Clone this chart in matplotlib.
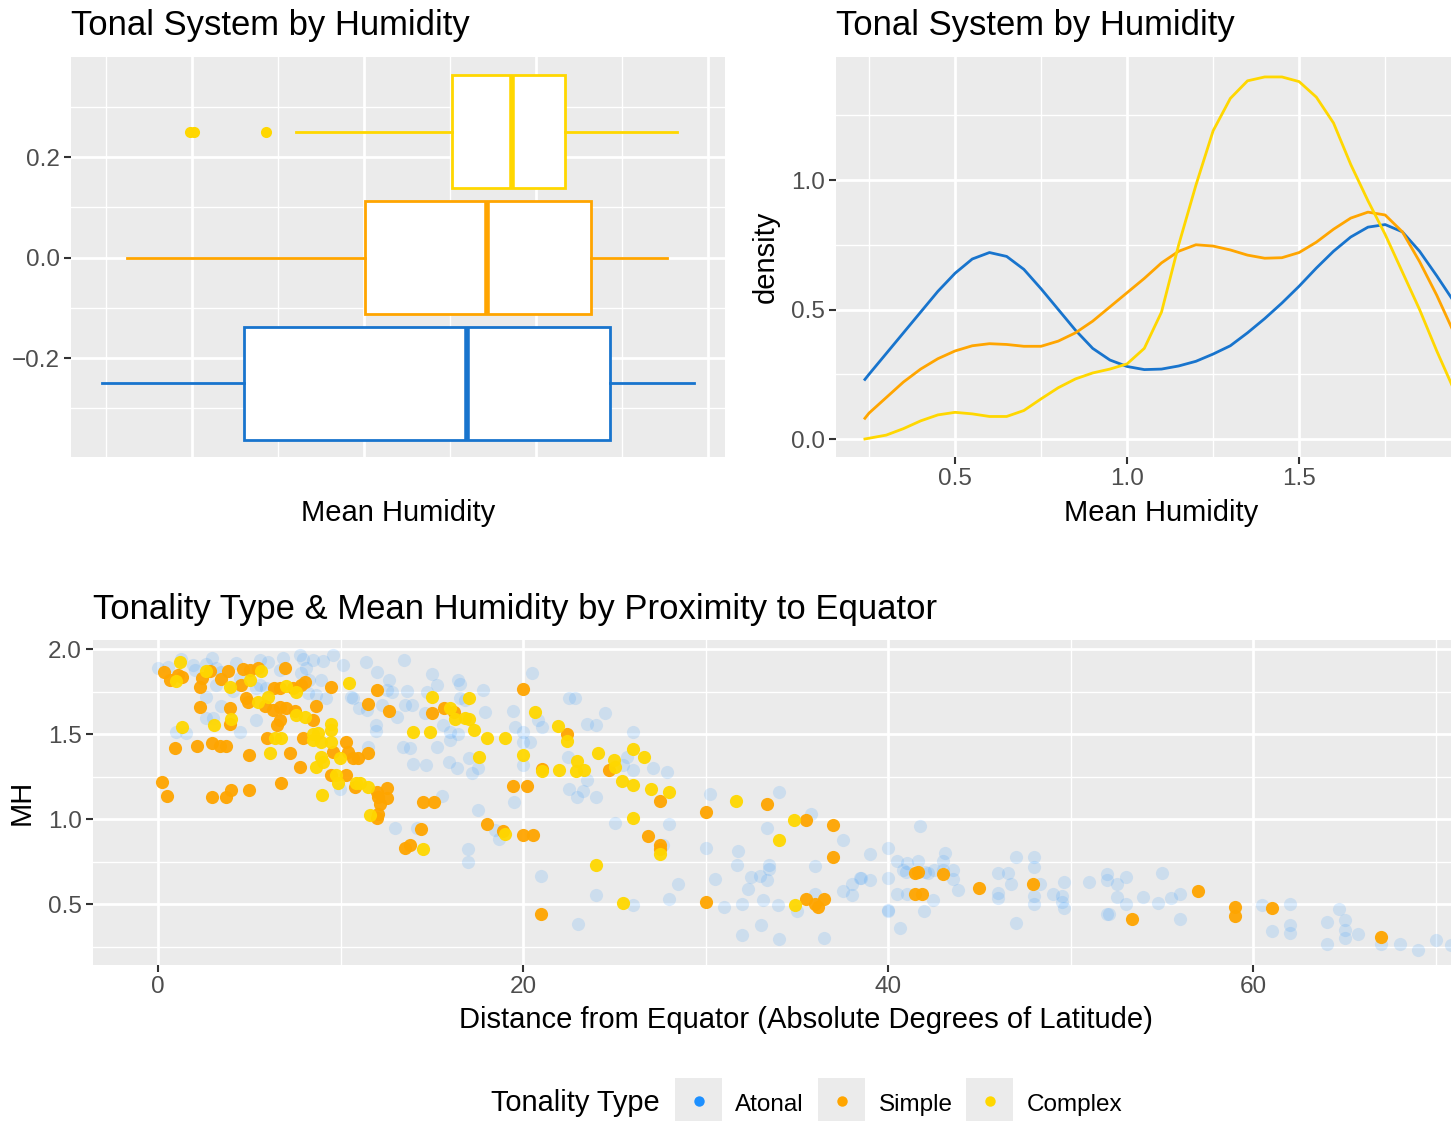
import numpy as np
import matplotlib.pyplot as plt
from matplotlib.patches import Rectangle
from matplotlib.lines import Line2D

plt.rcParams['font.family'] = ['Liberation Sans', 'DejaVu Sans']

types = ['Atonal', 'Simple', 'Complex']
line_colors = ['#1874CD', '#FFA500', '#FFD700']
point_colors = ['#1E90FF', '#FFA500', '#FFD700']

# boxplot summary of mean humidity per tonality type
box_pos = [-0.25, 0.0, 0.25]
box_low = [0.238, 0.311, 0.802]
box_q1 = [0.651, 1.003, 1.256]
box_med = [1.299, 1.358, 1.430]
box_q3 = [1.715, 1.660, 1.584]
box_high = [1.959, 1.881, 1.910]
box_out = [[], [], [0.495, 0.505, 0.715]]

# density curves of mean humidity
dens_x = [0.238, 0.25, 0.30, 0.35, 0.40, 0.45, 0.50, 0.55, 0.60, 0.65,
          0.70, 0.75, 0.80, 0.85, 0.90, 0.95, 1.00, 1.05, 1.10, 1.15,
          1.20, 1.25, 1.30, 1.35, 1.40, 1.45, 1.50, 1.55, 1.60, 1.65,
          1.70, 1.75, 1.80, 1.85, 1.90, 1.95, 1.96]
dens_atonal = [0.23, 0.25, 0.33, 0.41, 0.49, 0.57, 0.64, 0.695, 0.72, 0.705,
               0.655, 0.58, 0.50, 0.42, 0.35, 0.305, 0.28, 0.268, 0.27, 0.282,
               0.30, 0.328, 0.36, 0.41, 0.465, 0.525, 0.59, 0.66, 0.725, 0.78,
               0.818, 0.828, 0.80, 0.725, 0.63, 0.53, 0.51]
dens_simple = [0.08, 0.10, 0.16, 0.22, 0.27, 0.31, 0.34, 0.36, 0.368, 0.365,
               0.358, 0.358, 0.378, 0.41, 0.455, 0.51, 0.565, 0.62, 0.68, 0.725,
               0.75, 0.745, 0.73, 0.71, 0.698, 0.70, 0.72, 0.76, 0.81, 0.853,
               0.876, 0.865, 0.80, 0.685, 0.555, 0.41, 0.385]
dens_complex = [0.0, 0.003, 0.015, 0.04, 0.07, 0.093, 0.103, 0.097, 0.087, 0.087,
                0.11, 0.155, 0.198, 0.232, 0.255, 0.27, 0.29, 0.35, 0.49, 0.75,
                0.98, 1.19, 1.315, 1.383, 1.398, 1.398, 1.38, 1.32, 1.22, 1.06,
                0.92, 0.79, 0.645, 0.50, 0.34, 0.19, 0.165]

# (latitude distance, mean humidity) per tonality type
atonal = [
    (0.0, 1.89), (0.55, 1.896), (1.28, 1.941), (1.92, 1.906), (2.01, 1.876),
    (2.65, 1.91), (2.97, 1.949), (3.19, 1.886), (3.47, 1.867), (4.29, 1.916),
    (5.57, 1.935), (6.02, 1.922), (5.57, 1.788), (5.93, 1.769), (5.35, 1.773),
    (6.66, 1.876), (6.84, 1.949), (7.76, 1.965), (7.94, 1.941), (8.12, 1.886),
    (7.85, 1.857), (8.49, 1.935), (9.03, 1.929), (9.58, 1.965), (10.13, 1.906),
    (8.94, 1.818), (8.30, 1.818), (8.67, 1.729), (9.22, 1.71), (10.58, 1.72),
    (8.21, 1.739), (2.65, 1.72), (3.47, 1.667), (2.65, 1.596), (3.01, 1.592),
    (5.38, 1.582), (4.47, 1.51), (1.0, 1.51), (1.55, 1.504), (9.95, 1.18),
    (11.04, 1.651), (3.19, 1.788), (4.11, 1.753), (4.47, 1.827),
    (11.4, 1.922), (12.02, 1.867), (13.48, 1.935), (12.68, 1.818), (12.53, 1.759),
    (12.8, 1.749), (13.62, 1.753), (10.7, 1.71), (11.43, 1.641), (12.26, 1.671),
    (13.08, 1.602), (13.53, 1.671), (13.9, 1.671), (14.72, 1.749), (15.0, 1.851),
    (15.3, 1.788), (16.46, 1.818), (16.55, 1.792), (16.55, 1.71), (16.82, 1.7),
    (17.82, 1.759), (14.63, 1.622), (15.63, 1.553), (16.0, 1.514), (16.0, 1.465),
    (16.46, 1.498), (15.27, 1.425), (13.44, 1.425), (13.81, 1.416), (11.94, 1.553),
    (11.94, 1.518), (11.52, 1.425), (13.99, 1.327), (14.68, 1.318), (15.96, 1.337),
    (16.36, 1.298), (17.06, 1.357), (17.19, 1.269), (17.55, 1.298), (17.92, 1.631),
    (19.47, 1.635), (19.56, 1.543), (20.02, 1.514), (20.02, 1.455), (20.38, 1.455),
    (20.47, 1.857), (20.84, 1.582), (21.02, 1.543), (22.48, 1.367), (20.02, 1.318),
    (19.51, 1.102), (15.54, 1.135), (17.55, 1.053), (12.99, 0.949), (14.17, 0.949),
    (18.47, 0.935), (17.0, 0.827), (17.0, 0.749), (18.7, 0.886),
    (22.54, 1.714), (22.85, 1.714), (24.5, 1.622), (23.49, 1.557), (24.0, 1.553),
    (26.01, 1.514), (25.68, 1.367), (25.5, 1.318), (26.01, 1.288), (27.14, 1.302),
    (27.91, 1.275), (23.49, 1.229), (22.54, 1.18), (23.27, 1.167), (22.98, 1.131),
    (24.0, 1.131), (30.25, 1.147), (25.04, 0.98), (28.02, 0.971), (33.35, 0.951),
    (34.0, 1.157), (27.69, 0.851), (30.01, 0.831), (31.75, 0.814), (31.71, 0.729),
    (33.5, 0.729),
    (35.76, 1.03), (37.52, 0.877), (36.0, 0.724), (39.01, 0.798), (40.02, 0.831),
    (41.75, 0.961), (40.51, 0.753), (41.02, 0.743), (41.66, 0.753), (43.09, 0.804),
    (43.0, 0.753), (43.53, 0.7), (43.82, 0.586), (42.48, 0.524), (41.99, 0.461),
    (40.66, 0.361), (39.98, 0.461), (39.98, 0.657), (40.8, 0.70), (41.0, 0.69),
    (42.0, 0.69), (42.2, 0.685), (42.5, 0.70), (43.0, 0.70), (39.01, 0.641),
    (38.5, 0.655), (38.01, 0.618), (37.52, 0.578), (38.01, 0.553), (36.0, 0.563),
    (35.0, 0.461), (36.49, 0.302), (33.99, 0.494), (33.17, 0.524), (33.02, 0.38),
    (34.01, 0.294), (32.02, 0.5), (32.02, 0.318), (31.01, 0.484), (32.35, 0.592),
    (32.49, 0.661), (32.99, 0.665), (33.5, 0.708), (33.35, 0.645), (30.52, 0.651),
    (28.51, 0.618), (28.0, 0.53), (26.01, 0.498), (24.0, 0.553), (23.0, 0.382),
    (20.99, 0.667), (40.48, 0.559), (41.02, 0.559), (40.02, 0.465), (38.47, 0.657),
    (43.53, 0.651),
    (46.01, 0.684), (46.59, 0.684), (47.01, 0.778), (48.0, 0.778), (48.0, 0.72),
    (48.33, 0.618), (46.74, 0.618), (46.01, 0.567), (46.01, 0.539), (48.0, 0.547),
    (48.0, 0.504), (47.01, 0.39), (49.02, 0.563), (49.52, 0.547), (49.52, 0.514),
    (49.66, 0.48), (49.66, 0.631), (51.01, 0.631), (52.02, 0.68), (52.02, 0.645),
    (52.53, 0.618), (53.02, 0.661), (52.02, 0.445), (52.1, 0.44), (52.53, 0.543),
    (53.02, 0.504), (53.99, 0.543), (54.78, 0.508), (55.01, 0.684), (55.51, 0.537),
    (56.0, 0.563), (56.0, 0.416), (60.51, 0.498), (62.03, 0.504), (62.03, 0.377),
    (62.03, 0.332), (61.02, 0.343), (64.04, 0.396), (64.68, 0.471), (65.04, 0.41),
    (65.04, 0.347), (65.04, 0.302), (65.77, 0.327), (64.04, 0.269), (67.01, 0.265),
    (68.02, 0.265), (69.02, 0.233), (70.03, 0.292), (70.85, 0.259),
]

simple = [
    (0.31, 1.863), (0.64, 1.818), (1.10, 1.847), (1.33, 1.837), (2.32, 1.778),
    (2.41, 1.827), (2.83, 1.871), (3.47, 1.824), (3.84, 1.871), (4.66, 1.882),
    (5.02, 1.876), (5.48, 1.886), (4.57, 1.788), (4.84, 1.71), (4.93, 1.69),
    (6.98, 1.89), (6.34, 1.773), (6.67, 1.769), (7.39, 1.769), (7.85, 1.788),
    (8.04, 1.808), (2.32, 1.661), (3.96, 1.651), (3.93, 1.557), (5.84, 1.667),
    (6.30, 1.641), (6.67, 1.661), (7.03, 1.651), (7.49, 1.635), (6.52, 1.553),
    (6.67, 1.582), (8.68, 1.667), (8.49, 1.582), (9.50, 1.778), (5.99, 1.478),
    (7.95, 1.475), (10.32, 1.455), (9.59, 1.392), (10.41, 1.392), (10.68, 1.361),
    (10.96, 1.361), (0.91, 1.416), (2.16, 1.431), (2.98, 1.445), (3.38, 1.431),
    (3.74, 1.431), (4.99, 1.380), (7.25, 1.390), (7.76, 1.304), (9.50, 1.259),
    (10.32, 1.259), (0.24, 1.22), (0.49, 1.135), (2.98, 1.131), (3.74, 1.131),
    (3.98, 1.171), (4.99, 1.171), (6.76, 1.21), (10.78, 1.19),
    (11.98, 1.759), (11.52, 1.675), (12.68, 1.635), (15.0, 1.622), (15.67, 1.651),
    (16.22, 1.631), (20.02, 1.763), (11.52, 1.386), (11.98, 1.161), (12.53, 1.184),
    (12.53, 1.122), (12.07, 1.131), (12.16, 1.092), (12.07, 1.033), (11.98, 1.004),
    (14.5, 1.102), (15.12, 1.102), (14.41, 0.945), (13.53, 0.833), (13.81, 0.847),
    (18.01, 0.97), (18.92, 0.929), (20.02, 0.906), (20.53, 0.906), (19.43, 1.196),
    (20.2, 1.196), (21.02, 1.294), (22.39, 1.498),
    (24.73, 1.288), (27.51, 1.108), (30.01, 1.043), (33.35, 1.09), (26.83, 0.902),
    (27.51, 0.851), (27.51, 0.824),
    (35.51, 0.998), (37.0, 0.965), (37.0, 0.775), (41.48, 0.686), (41.66, 0.69),
    (43.0, 0.68), (41.48, 0.559), (41.85, 0.559), (35.51, 0.528), (36.0, 0.504),
    (36.18, 0.484), (36.49, 0.528), (30.01, 0.514), (20.99, 0.445), (45.0, 0.598),
    (47.93, 0.618), (53.35, 0.416), (57.0, 0.58), (59.01, 0.484), (59.01, 0.429),
    (61.01, 0.478), (67.01, 0.308),
]

complex_ = [
    (1.22, 1.925), (1.0, 1.812), (2.65, 1.871), (5.02, 1.818), (5.66, 1.871),
    (3.96, 1.778), (7.03, 1.784), (7.54, 1.749), (10.46, 1.798), (6.02, 1.72),
    (5.47, 1.69), (7.57, 1.612), (8.04, 1.602), (9.50, 1.557), (9.50, 1.524),
    (1.31, 1.543), (3.07, 1.553), (3.98, 1.588), (6.39, 1.478), (6.76, 1.478),
    (8.49, 1.498), (8.77, 1.504), (8.49, 1.465), (8.95, 1.455), (9.50, 1.455),
    (6.16, 1.39), (8.95, 1.367), (9.04, 1.337), (8.68, 1.304), (9.77, 1.259),
    (9.86, 1.21), (10.87, 1.21), (8.99, 1.141), (9.95, 1.361),
    (15.0, 1.72), (15.99, 1.651), (17.06, 1.714), (16.27, 1.588), (16.82, 1.592),
    (17.06, 1.588), (17.33, 1.524), (13.99, 1.51), (14.9, 1.51), (18.01, 1.478),
    (19.01, 1.478), (17.61, 1.367), (19.98, 1.376), (20.66, 1.627), (21.94, 1.549),
    (22.39, 1.459), (21.02, 1.282), (21.99, 1.288), (11.07, 1.21), (11.52, 1.19),
    (11.62, 1.024), (14.5, 0.827), (19.01, 0.912),
    (22.98, 1.341), (22.91, 1.282), (23.35, 1.288), (24.09, 1.386), (24.99, 1.347),
    (25.04, 1.308), (26.01, 1.412), (26.6, 1.367), (25.41, 1.225), (26.01, 1.2),
    (27.0, 1.18), (28.02, 1.161), (31.67, 1.108), (26.01, 1.004), (27.51, 0.798),
    (24.0, 0.729), (34.0, 0.88), (34.85, 0.998), (25.5, 0.508), (34.9, 0.494),
]

W, H = 1451, 1121


def fx(px):
    return px / W


def fy(py):
    return 1 - py / H


def style(ax):
    ax.set_facecolor('#EBEBEB')
    for s in ax.spines.values():
        s.set_visible(False)
    ax.grid(which='major', color='white', lw=2.0)
    ax.grid(which='minor', color='white', lw=1.0)
    ax.set_axisbelow(True)
    ax.tick_params(which='major', length=5, width=1.5, color='#333333',
                   labelsize=17.5, labelcolor='#4D4D4D', pad=3)
    ax.tick_params(which='minor', length=0)


fig = plt.figure(figsize=(W / 100, H / 100), dpi=100)

# top left: boxplots
ax_box = fig.add_axes([fx(71), fy(457), (725 - 71) / W, 400 / H])
style(ax_box)
for i in range(3):
    stats = [dict(med=box_med[i], q1=box_q1[i], q3=box_q3[i],
                  whislo=box_low[i], whishi=box_high[i], fliers=box_out[i])]
    ax_box.bxp(stats, positions=[box_pos[i]], widths=0.225,
               orientation='horizontal', patch_artist=True, showcaps=False,
               manage_ticks=False,
               boxprops=dict(facecolor='white', edgecolor=line_colors[i], lw=2.0),
               whiskerprops=dict(color=line_colors[i], lw=2.0),
               medianprops=dict(color=line_colors[i], lw=4.0),
               flierprops=dict(marker='o', markerfacecolor=line_colors[i],
                               markeredgecolor='none', markersize=8))
ax_box.set_xlim(0.148, 2.049)
ax_box.set_ylim(-0.397, 0.399)
ax_box.set_xticks([0.5, 1.0, 1.5, 2.0])
ax_box.set_xticks([0.25, 0.75, 1.25, 1.75], minor=True)
ax_box.set_yticks([-0.2, 0.0, 0.2])
ax_box.set_yticks([-0.3, -0.1, 0.1, 0.3], minor=True)
ax_box.set_yticklabels(['\u22120.2', '0.0', '0.2'])
ax_box.tick_params(axis='x', which='major', length=0, labelbottom=False)

# top right: density
ax_den = fig.add_axes([fx(836), fy(457), (1487 - 836) / W, 400 / H])
style(ax_den)
for ys, c in zip([dens_atonal, dens_simple, dens_complex], line_colors):
    ax_den.plot(dens_x, ys, color=c, lw=2.0, solid_joinstyle='round')
ax_den.set_xlim(0.154, 2.046)
ax_den.set_ylim(-0.0695, 1.475)
ax_den.set_xticks([0.5, 1.0, 1.5])
ax_den.set_xticks([0.25, 0.75, 1.25, 1.75], minor=True)
ax_den.set_yticks([0.0, 0.5, 1.0])
ax_den.set_yticks([0.25, 0.75, 1.25], minor=True)

# bottom: scatter
ax_sc = fig.add_axes([fx(93), fy(965), (1516 - 93) / W, 325 / H])
style(ax_sc)
for pts, c, a in zip([atonal, simple, complex_], point_colors, [0.15, 0.95, 0.95]):
    lat, mh = np.array(pts).T
    ax_sc.scatter(lat, mh, s=90, color=c, alpha=a, linewidths=0)
ax_sc.set_xlim(-3.56, 74.4)
ax_sc.set_ylim(0.143, 2.053)
ax_sc.set_xticks([0, 20, 40, 60])
ax_sc.set_xticks([10, 30, 50, 70], minor=True)
ax_sc.set_yticks([0.5, 1.0, 1.5, 2.0])
ax_sc.set_yticks([0.25, 0.75, 1.25, 1.75], minor=True)

# titles and axis labels
title_size = 24.9
label_size = 21.0
fig.text(fx(71), fy(35), 'Tonal System by Humidity', fontsize=title_size, va='baseline')
fig.text(fx(836), fy(35), 'Tonal System by Humidity', fontsize=title_size, va='baseline')
fig.text(fx(93), fy(619), 'Tonality Type & Mean Humidity by Proximity to Equator',
         fontsize=title_size, va='baseline')
fig.text(fx(398), fy(521), 'Mean Humidity', fontsize=label_size, ha='center', va='baseline')
fig.text(fx(1161), fy(521), 'Mean Humidity', fontsize=label_size, ha='center', va='baseline')
fig.text(fx(766), fy(257), 'density', fontsize=label_size, rotation=90, ha='center', va='center')
fig.text(fx(806), fy(1028), 'Distance from Equator (Absolute Degrees of Latitude)',
         fontsize=label_size, ha='center', va='baseline')
fig.text(fx(22), fy(802), 'MH', fontsize=label_size, rotation=90, ha='center', va='center')

# legend
fig.text(fx(491), fy(1111), 'Tonality Type', fontsize=20.9, va='baseline')
key_x = [675, 818, 966]
label_x = [735, 879, 1027]
for i in range(3):
    fig.patches.append(Rectangle((fx(key_x[i]), fy(1122)), 47 / W, 44 / H,
                                 transform=fig.transFigure, facecolor='#EBEBEB',
                                 edgecolor='none'))
    fig.add_artist(Line2D([fx(key_x[i] + 23.5)], [fy(1101)], marker='o', markersize=7.5,
                          color=point_colors[i], markeredgecolor='none',
                          transform=fig.transFigure))
    fig.text(fx(label_x[i]), fy(1111), types[i], fontsize=17.5, va='baseline')

fig.savefig('out.png', dpi=100)
